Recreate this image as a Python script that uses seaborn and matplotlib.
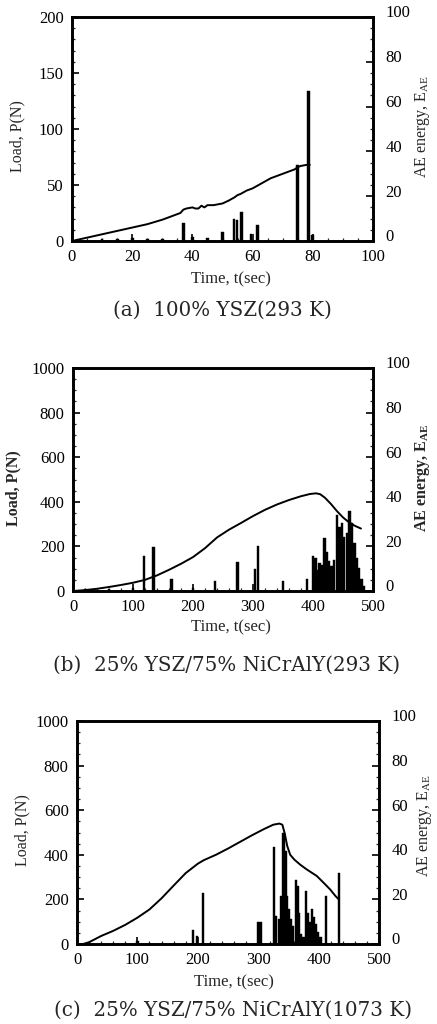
import numpy as np
import matplotlib
matplotlib.use("Agg")
import matplotlib.pyplot as plt
import matplotlib.transforms as mtransforms
import seaborn as sns
import pandas as pd
from matplotlib.ticker import MultipleLocator

sns.set_theme(style="ticks")
plt.rcParams['font.family'] = ['Liberation Serif', 'DejaVu Serif']
plt.rcParams['mathtext.fontset'] = 'custom'
plt.rcParams['mathtext.rm'] = 'Liberation Serif'
plt.rcParams['mathtext.bf'] = 'Liberation Serif:bold'

# ---------------- data ----------------
# (a) 100% YSZ (293 K)
a_time = [0, 5, 10, 15, 20, 25, 30, 34, 36, 37, 38, 40, 41, 42, 43, 44, 45, 47, 50, 52,
          54, 55, 56, 58, 60, 62, 64, 66, 68, 70, 72, 74, 75, 76, 78, 79]
a_load = [0, 3, 6, 9, 12, 15, 19, 23, 25, 28, 29, 30, 29, 29, 31.5, 30, 32, 32, 33.5, 36,
          39, 41, 42, 45, 47, 50, 53, 56, 58, 60, 62, 64, 66, 67, 68, 68]
a_ae_time = [10, 15, 20, 25, 30, 37, 40, 45, 50, 53.8, 54.8, 56.2, 59.5, 61.7, 75, 78.5, 79.8]
a_ae = [0.8, 0.8, 1.2, 0.8, 0.8, 8, 2, 1.5, 4.2, 9.8, 9.3, 13, 3.2, 7, 34, 67, 2.5]

# (b) 25% YSZ/75% NiCrAlY (293 K)
b_time = [0, 20, 40, 60, 80, 100, 120, 140, 160, 180, 200, 220, 240, 260, 280, 300, 320,
          340, 360, 380, 395, 405, 412, 420, 430, 440, 450, 460, 470, 480]
b_load = [0, 4, 10, 18, 27, 37, 50, 70, 95, 122, 152, 192, 240, 275, 305, 336, 364,
          388, 408, 425, 435, 438, 434, 418, 390, 358, 330, 308, 292, 280]
b_ae_time = [20, 60, 100, 118, 134, 164, 200, 237, 274, 303, 308, 350, 390,
             400, 404, 407, 411, 415, 419, 423, 427, 431, 435, 440, 444, 448, 452,
             457, 461, 465, 469, 473, 477, 481, 484]
b_ae = [0.8, 0.8, 1.5, 15.5, 19.6, 5.6, 1.5, 4.7, 12.9, 10, 20.2, 4.4, 5.6,
        15.5, 14.8, 9.6, 12.6, 11.8, 23.6, 17.7, 13.3, 11, 14, 34, 28.8, 30.3, 24.4,
        25.8, 35.9, 30.3, 21.4, 14.8, 10.3, 5.2, 2.2]

# (c) 25% YSZ/75% NiCrAlY (1073 K)
c_time = [10, 20, 40, 60, 80, 100, 120, 140, 160, 180, 200, 210, 230, 250, 270, 290,
          310, 325, 335, 340, 344, 348, 353, 360, 369, 380, 397, 410, 419, 428, 434]
c_load = [0, 8, 36, 59, 86, 118, 155, 205, 262, 318, 360, 376, 400, 428, 458, 488,
          516, 535, 540, 535, 495, 440, 400, 378, 357, 335, 305, 270, 245, 215, 198]
c_ae_time = [100, 192, 199, 209, 300, 304, 326, 330, 334, 338, 342, 345, 348, 351, 354,
             358, 362, 365, 368, 371, 375, 379, 382, 385, 389, 392, 396, 399, 403, 412, 434]
c_ae = [1.5, 6.4, 3.4, 23, 9.7, 9.7, 43.5, 12.6, 11, 21.5, 50, 41.6, 21.5, 15.6, 11,
        8.2, 28.7, 26, 14, 4.5, 3, 23.8, 14, 9.7, 15.6, 11.9, 8.9, 5.2, 3, 21.6, 31.7]

captions = ["(a)  100% YSZ(293 K)",
            "(b)  25% YSZ/75% NiCrAlY(293 K)",
            "(c)  25% YSZ/75% NiCrAlY(1073 K)"]

# ---------------- figure ----------------
fig = plt.figure(figsize=(4.37, 10.24), dpi=100)
W, H = 437.0, 1024.0

panels = [
    dict(t=a_time, p=a_load, et=a_ae_time, e=a_ae, xmax=100, ymax=200, xmaj=20, xmin=5,
         ymaj=50, ymin=10, bw=0.9, box=(72, 17, 373, 241), cap=(222, 310), xl=(231, 279),
         ll=(17, 136), rl=(423, 126), bold=False),
    dict(t=b_time, p=b_load, et=b_ae_time, e=b_ae, xmax=500, ymax=1000, xmaj=100, xmin=20,
         ymaj=200, ymin=50, bw=4.2, box=(73, 368, 373, 591), cap=(227, 665), xl=(231, 627),
         ll=(13, 488), rl=(423, 478), bold=True),
    dict(t=c_time, p=c_load, et=c_ae_time, e=c_ae, xmax=500, ymax=1000, xmaj=100, xmin=20,
         ymaj=200, ymin=50, bw=3.8, box=(77, 721, 379, 944), cap=(233, 1010), xl=(234, 982),
         ll=(22, 830), rl=(424, 825), bold=False),
]

tick_fs = 12
up = mtransforms.ScaledTranslation(0, 4 / 72, fig.dpi_scale_trans)
for i, P in enumerate(panels):
    x0, y0, x1, y1 = P['box']
    ax = fig.add_axes([x0 / W, 1 - y1 / H, (x1 - x0) / W, (y1 - y0) / H])
    ax2 = ax.twinx()

    df = pd.DataFrame({'t': P['t'], 'load': P['p']})
    sns.lineplot(data=df, x='t', y='load', ax=ax, color='black', lw=1.4, zorder=3)

    ax2.bar(P['et'], P['e'], width=P['bw'], color='black', edgecolor='black', lw=0.3)

    ax.set_xlim(0, P['xmax'])
    ax.set_ylim(0, P['ymax'])
    ax2.set_ylim(0, 100)
    ax.xaxis.set_major_locator(MultipleLocator(P['xmaj']))
    ax.xaxis.set_minor_locator(MultipleLocator(P['xmin']))
    ax.yaxis.set_major_locator(MultipleLocator(P['ymaj']))
    ax.yaxis.set_minor_locator(MultipleLocator(P['ymin']))
    ax2.yaxis.set_major_locator(MultipleLocator(20))
    ax2.yaxis.set_minor_locator(MultipleLocator(5))

    for a in (ax, ax2):
        for s in a.spines.values():
            s.set_linewidth(1.9)
            s.set_color('black')
    ax.tick_params(which='major', direction='in', length=5, width=1.2, labelsize=tick_fs,
                   colors='black', pad=6, top=False, right=False)
    ax.tick_params(which='minor', direction='in', length=2.5, width=0.9, top=False, right=False)
    ax2.tick_params(which='major', direction='in', length=5, width=1.2, labelsize=tick_fs,
                    colors='black', pad=9)
    ax2.tick_params(which='minor', direction='in', length=2.5, width=0.9)
    for lab in ax2.get_yticklabels():
        lab.set_transform(lab.get_transform() + up)

    wt = 'bold' if P['bold'] else 'normal'
    ax.set_xlabel('')
    ax.set_ylabel('')
    ax2.set_ylabel('')
    fig.text(P['ll'][0] / W, 1 - P['ll'][1] / H, 'Load, P(N)', rotation=90,
             ha='center', va='center', fontsize=11.5, fontweight=wt)
    if P['bold']:
        rl = r'AE energy, E$_{\mathbf{AE}}$'
    else:
        rl = r'AE energy, E$_{\mathrm{AE}}$'
    fig.text(P['rl'][0] / W, 1 - P['rl'][1] / H, rl, rotation=90,
             ha='center', va='center', fontsize=11.5, fontweight=wt)
    fig.text(P['xl'][0] / W, 1 - P['xl'][1] / H, 'Time, t(sec)', ha='center', va='center',
             fontsize=12)
    fig.text(P['cap'][0] / W, 1 - P['cap'][1] / H, captions[i], ha='center', va='center',
             fontsize=14.3, family=['DejaVu Serif'])

fig.savefig('out.png', dpi=100, facecolor='white')
